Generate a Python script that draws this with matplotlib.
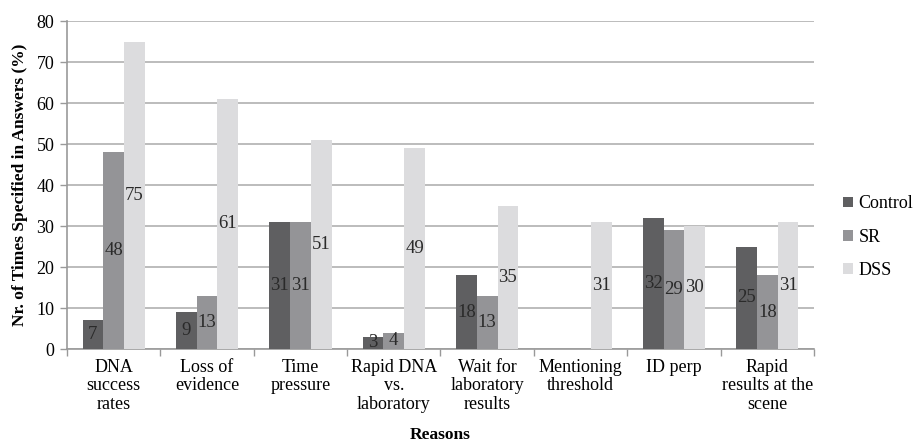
import matplotlib
matplotlib.use("Agg")
import matplotlib.pyplot as plt
import numpy as np

reasons = [
    "DNA\nsuccess\nrates",
    "Loss of\nevidence",
    "Time\npressure",
    "Rapid DNA\nvs.\nlaboratory",
    "Wait for\nlaboratory\nresults",
    "Mentioning\nthreshold",
    "ID perp",
    "Rapid\nresults at the\nscene",
]
control = [7, 9, 31, 3, 18, 0, 32, 25]
sr = [48, 13, 31, 4, 13, 0, 29, 18]
dss = [75, 61, 51, 49, 35, 31, 30, 31]

series = [("Control", control, "#5f5f61"), ("SR", sr, "#949497"), ("DSS", dss, "#dcdcde")]

plt.rcParams["font.family"] = ["Liberation Serif", "DejaVu Serif"]

fig = plt.figure(figsize=(9.15, 4.45), dpi=100)
ax = fig.add_axes([0.0732, 0.2157, 0.8164, 0.7371])

x = np.arange(len(reasons))
width = 0.222
for i, (name, vals, color) in enumerate(series):
    pos = x + (i - 1) * width
    bars = ax.bar(pos, vals, width=width, color=color, label=name, zorder=3)
    for b, v in zip(bars, vals):
        if v == 0:
            continue
        ax.text(b.get_x() + b.get_width() / 2, v / 2, str(v),
                ha="center", va="center", fontsize=13.5, color="#2a2a2a", zorder=4)

ax.set_xlim(-0.5, len(reasons) - 0.5)
ax.set_ylim(0, 80)
ax.set_yticks(range(0, 81, 10))
ax.yaxis.grid(True, color="#b0b0b0", linewidth=1.2, zorder=0)
ax.set_axisbelow(True)

ax.set_xticks(x)
ax.set_xticklabels(reasons, fontsize=13, linespacing=1.12)
ax.tick_params(axis="x", length=0, pad=7)
ax.set_xticks(np.arange(-0.5, len(reasons), 1), minor=True)
ax.tick_params(axis="x", which="minor", length=5, color="#999999", width=1)
ax.tick_params(axis="y", labelsize=13, length=5, color="#999999", width=1, pad=4)

for s in ["top", "right"]:
    ax.spines[s].set_visible(False)
for s in ["left", "bottom"]:
    ax.spines[s].set_color("#999999")
    ax.spines[s].set_linewidth(1.2)

ax.set_xlabel("Reasons", fontsize=12.5, fontweight="bold", labelpad=10)
ax.set_ylabel("Nr. of Times Specified in Answers (%)", fontsize=12.5, fontweight="bold", labelpad=6)

ax.legend(loc="center left", bbox_to_anchor=(1.034, 0.341), frameon=False,
          fontsize=13, handlelength=0.55, handleheight=0.55, handletextpad=0.3,
          labelspacing=0.9, borderaxespad=0.0, borderpad=0.2)

fig.savefig("out.png", dpi=100)
